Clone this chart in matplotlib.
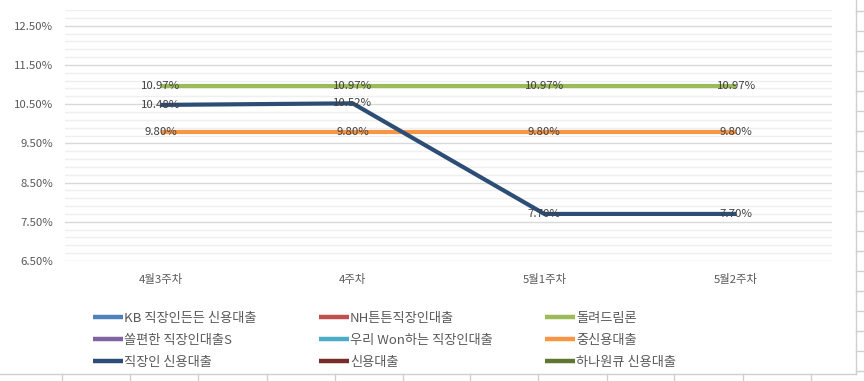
import numpy as np
import matplotlib
matplotlib.use("Agg")
import matplotlib.pyplot as plt
from matplotlib.lines import Line2D

plt.rcParams['font.family'] = ['Noto Sans CJK KR', 'DejaVu Sans']

categories = ['4월3주차', '4주차', '5월1주차', '5월2주차']
kb = [np.nan, np.nan, np.nan, np.nan]
nh = [np.nan, np.nan, np.nan, np.nan]
dolryeo = [10.97, 10.97, 10.97, 10.97]
ssol = [np.nan, np.nan, np.nan, np.nan]
woori = [np.nan, np.nan, np.nan, np.nan]
jungsin = [9.80, 9.80, 9.80, 9.80]
jikjang = [10.48, 10.52, 7.70, 7.70]
sinyong = [np.nan, np.nan, np.nan, np.nan]
hana = [np.nan, np.nan, np.nan, np.nan]

series = [
    ('KB 직장인든든 신용대출', kb, '#4F81BD'),
    ('NH튼튼직장인대출', nh, '#C0504D'),
    ('돌려드림론', dolryeo, '#9BBB59'),
    ('쏠편한 직장인대출S', ssol, '#8064A2'),
    ('우리 Won하는 직장인대출', woori, '#4BACC6'),
    ('중신용대출', jungsin, '#F79646'),
    ('직장인 신용대출', jikjang, '#2C4D75'),
    ('신용대출', sinyong, '#772C2A'),
    ('하나원큐 신용대출', hana, '#5F7530'),
]

W, H = 864, 381
fig = plt.figure(figsize=(W/100, H/100), dpi=100)
ax = fig.add_axes([65/W, 1-261/H, (832-65)/W, (261-10)/H])

x = np.arange(len(categories))
handles = []
for name, vals, col in series:
    ax.plot(x, vals, color=col, lw=3.0, solid_capstyle='butt', zorder=3)
    handles.append(Line2D([], [], color=col, lw=3.2, solid_capstyle='butt', label=name))
    for xi, v in zip(x, vals):
        if not np.isnan(v):
            ax.text(xi, v, f'{v:.2f}%', ha='center', va='center', fontsize=8.2,
                    color='#404040', zorder=4)

ax.set_xlim(-0.5, len(categories)-0.5)
ax.set_ylim(6.5, 12.9)
ax.set_yticks(np.arange(6.5, 12.51, 1.0))
ax.set_yticks(np.arange(6.7, 12.91, 0.2), minor=True)
ax.set_yticklabels([f'{t:.2f}%' for t in np.arange(6.5, 12.51, 1.0)])
ax.set_xticks(x)
ax.set_xticklabels(categories)
ax.grid(axis='y', which='major', color='#D9D9D9', lw=1.0, zorder=0)
ax.grid(axis='y', which='minor', color='#EFEFEF', lw=1.0, zorder=0)
ax.tick_params(axis='both', which='both', length=0, labelsize=8.2, colors='#595959')
ax.tick_params(axis='x', pad=9)
ax.tick_params(axis='y', pad=8.5)
for s in ax.spines.values():
    s.set_visible(False)

col_x = [93, 319, 545]
for c in range(3):
    leg = fig.legend(handles=[handles[r*3+c] for r in range(3)],
                     loc='upper left', bbox_to_anchor=(col_x[c]/W, 1-312/H),
                     frameon=False, fontsize=9.5, handlelength=2.25, handletextpad=0.1,
                     labelspacing=0.68, borderaxespad=0, borderpad=0)
    for t in leg.get_texts():
        t.set_color('#595959')

# surrounding spreadsheet grid lines
gy = 1-374/H
fig.add_artist(Line2D([0, 856/W], [gy, gy], color='#D0D0D0', lw=1))
fig.add_artist(Line2D([856/W, 856/W], [gy, 1], color='#D0D0D0', lw=1))
for xi in [62, 130, 198, 267, 335, 403, 470, 538, 607, 674, 743, 811]:
    fig.add_artist(Line2D([xi/W, xi/W], [0, gy], color='#D0D0D0', lw=1))
for yi in range(11, 374, 20):
    fig.add_artist(Line2D([856/W, 1], [1-yi/H, 1-yi/H], color='#D0D0D0', lw=1))

fig.savefig('out.png', dpi=100)
